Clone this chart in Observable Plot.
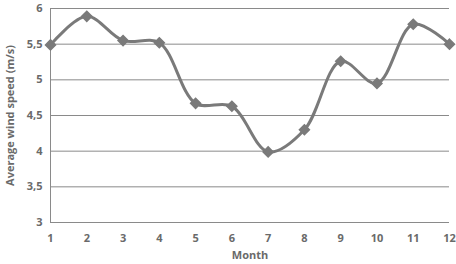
<!DOCTYPE html>
<html><head><meta charset="utf-8">
<script src="https://cdn.jsdelivr.net/npm/d3@7"></script>
<script src="https://cdn.jsdelivr.net/npm/@observablehq/plot@0.6"></script>
<style>body{margin:0;background:#fff}</style>
</head><body><div id="chart"></div>
<script>
const months = [1,2,3,4,5,6,7,8,9,10,11,12];
const windSpeed = [5.49,5.89,5.55,5.52,4.67,4.63,3.99,4.3,5.26,4.95,5.78,5.5];
const yTicks = [3,3.5,4,4.5,5,5.5,6];
const data = months.map((m,i)=>({month:m, speed:windSpeed[i]}));
const fmt = v => String(v).replace(".", ",");
const chart = Plot.plot({
  width:456, height:264,
  marginLeft:50, marginRight:7, marginTop:8, marginBottom:42,
  style:{fontFamily:"'Open Sans', sans-serif", fontSize:"11px", color:"#6a6a6a", background:"#fff"},
  x:{domain:[1,12]},
  y:{domain:[3,6]},
  marks:[
    Plot.gridY(yTicks, {stroke:"#8a8a8a", strokeOpacity:1, strokeWidth:1}),
    Plot.ruleX([1], {stroke:"#8a8a8a", strokeWidth:1}),
    Plot.axisY({ticks:yTicks, tickSize:0, tickPadding:8, tickFormat:fmt, label:"Average wind speed (m/s)", labelAnchor:"center", labelArrow:"none", labelOffset:44, fontWeight:"bold"}),
    Plot.axisX({ticks:months, tickSize:0, tickPadding:12, label:"Month", labelAnchor:"center", labelArrow:"none", labelOffset:36, fontWeight:"bold"}),
    Plot.line(data, {x:"month", y:"speed", curve:"catmull-rom", stroke:"#7a7a7a", strokeWidth:3}),
    Plot.dot(data, {x:"month", y:"speed", symbol:"diamond2", r:4.5, fill:"#7a7a7a", stroke:"#7a7a7a"})
  ]
});
document.getElementById("chart").appendChild(chart);
</script></body></html>
